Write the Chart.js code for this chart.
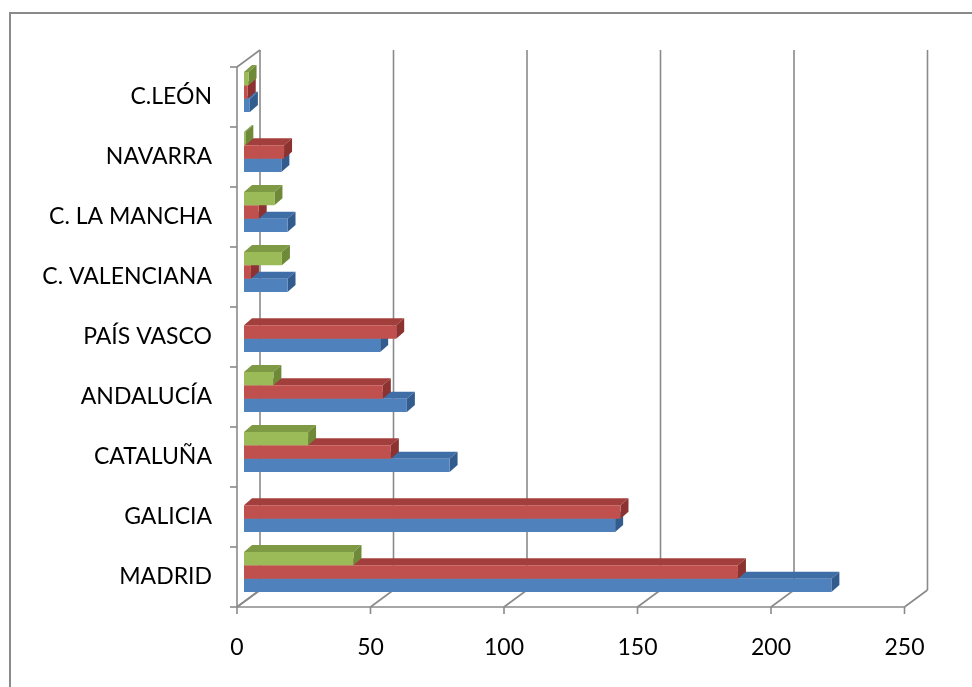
<!DOCTYPE html>
<html>
<head>
<meta charset="utf-8">
<script src="https://cdn.jsdelivr.net/npm/chart.js@4.4.1/dist/chart.umd.min.js"></script>
<style>
  html, body { margin: 0; padding: 0; background: #fff; }
  canvas { display: block; }
</style>
</head>
<body>
<canvas id="grafico" width="972" height="687"></canvas>
<script>
// Comunidades, de arriba a abajo
const comunidades = ['C.LEÓN', 'NAVARRA', 'C. LA MANCHA', 'C. VALENCIANA', 'PAÍS VASCO', 'ANDALUCÍA', 'CATALUÑA', 'GALICIA', 'MADRID'];
const serieAzul  = [2.2, 14, 16.3, 16.3, 51, 61, 77, 139, 220];
const serieRoja  = [1.4, 15, 5.5, 2.6, 57, 52, 55, 141, 185];
const serieVerde = [1.7, 0.5, 11.4, 14.2, 0, 11, 24, 0, 41];
const ticksX = [0, 50, 100, 150, 200, 250];

// colores: frente, cara superior, cara lateral
const colores = {
  azul:  ['#4F81BD', '#3F6EA6', '#335C8E'],
  roja:  ['#C0504D', '#A23F3C', '#8C3331'],
  verde: ['#9BBB59', '#7F9A44', '#6E8A39']
};

const fondo = { dx: 8, dy: -7 };     // profundidad de las barras
const pared = { dx: 23, dy: -17 };   // del plano frontal a la pared del fondo
const frente = { dx: -7, dy: 5 };    // plano de las barras -> plano frontal
const gris = '#8a8a8a';

function poly(ctx, pts, color) {
  ctx.beginPath();
  ctx.moveTo(pts[0][0], pts[0][1]);
  for (let i = 1; i < pts.length; i++) ctx.lineTo(pts[i][0], pts[i][1]);
  ctx.closePath();
  ctx.fillStyle = color;
  ctx.fill();
}

function line(ctx, x1, y1, x2, y2) {
  ctx.beginPath();
  ctx.moveTo(x1, y1);
  ctx.lineTo(x2, y2);
  ctx.stroke();
}

const caras3d = {
  id: 'caras3d',
  beforeDraw(chart) {
    const ctx = chart.ctx;
    ctx.save();
    ctx.strokeStyle = gris;
    ctx.lineWidth = 2;
    ctx.strokeRect(10, 13, 1200, 1200);
    ctx.restore();
  },
  beforeDatasetsDraw(chart) {
    const ctx = chart.ctx;
    const xs = chart.scales.x, ys = chart.scales.y;
    const top = ys.top + frente.dy, bottom = ys.bottom + frente.dy;
    const x0 = xs.getPixelForValue(0) + frente.dx;
    ctx.save();
    ctx.strokeStyle = gris;
    ctx.lineWidth = 1.6;
    // pared izquierda
    line(ctx, x0, top, x0, bottom);
    line(ctx, x0, top, x0 + pared.dx, top + pared.dy);
    line(ctx, x0 + pared.dx, top + pared.dy, x0 + pared.dx, bottom + pared.dy);
    line(ctx, x0, bottom, x0 + pared.dx, bottom + pared.dy);
    // marcas de categorias
    const paso = (bottom - top) / comunidades.length;
    for (let k = 0; k <= comunidades.length; k++) {
      line(ctx, x0 - 7, top + k * paso, x0, top + k * paso);
    }
    // suelo y pared del fondo
    line(ctx, x0, bottom, xs.getPixelForValue(250) + frente.dx, bottom);
    ticksX.forEach(v => {
      const fx = xs.getPixelForValue(v) + frente.dx;
      line(ctx, fx, bottom, fx, bottom + 7);
      line(ctx, fx, bottom, fx + pared.dx, bottom + pared.dy);
      if (v > 0) line(ctx, fx + pared.dx, bottom + pared.dy, fx + pared.dx, top + pared.dy);
    });
    ctx.restore();
  },
  beforeDatasetDraw(chart, args) {
    const ctx = chart.ctx;
    const ds = chart.data.datasets[args.index];
    args.meta.data.forEach((bar, i) => {
      if (!ds.data[i]) return;
      const p = bar.getProps(['x', 'y', 'base', 'height'], true);
      const yt = p.y - p.height / 2, yb = p.y + p.height / 2;
      poly(ctx, [[p.base, yt], [p.x, yt], [p.x + fondo.dx, yt + fondo.dy], [p.base + fondo.dx, yt + fondo.dy]], ds.caraSuperior);
      poly(ctx, [[p.x, yt], [p.x + fondo.dx, yt + fondo.dy], [p.x + fondo.dx, yb + fondo.dy], [p.x, yb]], ds.caraLateral);
    });
  }
};

const fuente = { family: 'Lato', size: 23 };

new Chart(document.getElementById('grafico'), {
  type: 'bar',
  data: {
    labels: comunidades,
    datasets: [
      { label: 'Serie 3', data: serieVerde, backgroundColor: colores.verde[0], caraSuperior: colores.verde[1], caraLateral: colores.verde[2] },
      { label: 'Serie 2', data: serieRoja, backgroundColor: colores.roja[0], caraSuperior: colores.roja[1], caraLateral: colores.roja[2] },
      { label: 'Serie 1', data: serieAzul, backgroundColor: colores.azul[0], caraSuperior: colores.azul[1], caraLateral: colores.azul[2] }
    ]
  },
  options: {
    indexAxis: 'y',
    responsive: false,
    animation: false,
    categoryPercentage: 0.667,
    barPercentage: 1,
    borderWidth: 0,
    layout: { padding: { top: 62, right: 60.5, left: 0, bottom: 0 } },
    scales: {
      x: {
        min: 0,
        max: 250,
        afterFit(scale) { scale.height = 85; },
        afterBuildTicks(scale) { scale.ticks = ticksX.map(v => ({ value: v })); },
        grid: { display: false, drawTicks: false },
        border: { display: false },
        ticks: { color: '#000', font: fuente, padding: 32, labelOffset: frente.dx, maxRotation: 0 }
      },
      y: {
        afterFit(scale) { scale.width = 244; },
        grid: { display: false, drawTicks: false },
        border: { display: false },
        ticks: { color: '#000', font: fuente, padding: 32, labelOffset: frente.dy, autoSkip: false }
      }
    },
    plugins: {
      legend: { display: false },
      tooltip: { enabled: false }
    }
  },
  plugins: [caras3d]
});
</script>
</body>
</html>
